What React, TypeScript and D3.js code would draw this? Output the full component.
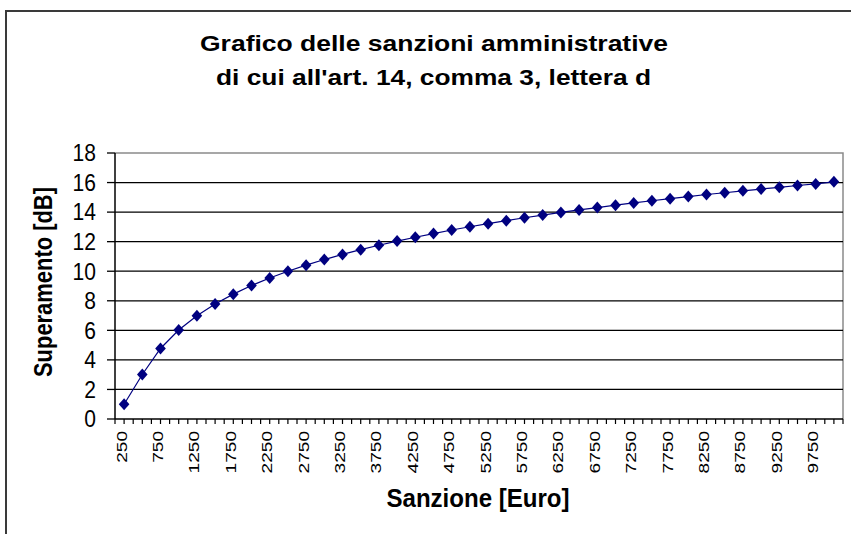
import React from "react";
import * as d3 from "d3";

const categories: number[] = [
  250, 500, 750, 1000, 1250, 1500, 1750, 2000, 2250, 2500,
  2750, 3000, 3250, 3500, 3750, 4000, 4250, 4500, 4750, 5000,
  5250, 5500, 5750, 6000, 6250, 6500, 6750, 7000, 7250, 7500,
  7750, 8000, 8250, 8500, 8750, 9000, 9250, 9500, 9750, 10000,
];

const superamento: number[] = [
  1.0, 3.01, 4.77, 6.02, 6.99, 7.78, 8.45, 9.03, 9.54, 10.0,
  10.41, 10.79, 11.14, 11.46, 11.76, 12.04, 12.3, 12.55, 12.79, 13.01,
  13.22, 13.42, 13.62, 13.8, 13.98, 14.15, 14.31, 14.47, 14.62, 14.77,
  14.91, 15.05, 15.19, 15.31, 15.44, 15.56, 15.68, 15.8, 15.91, 16.05,
];

const yTicks: number[] = [0, 2, 4, 6, 8, 10, 12, 14, 16, 18];

const titleLines: string[] = [
  "Grafico delle sanzioni amministrative",
  "di cui all'art. 14, comma 3, lettera d",
];
const xTitle = "Sanzione [Euro]";
const yTitle = "Superamento [dB]";

const FONT = "'Liberation Sans', Arial, Helvetica, sans-serif";

export default function App() {
  const left = 115;
  const right = 843;
  const top = 153;
  const bottom = 419;

  const x = d3
    .scaleBand<number>()
    .domain(categories)
    .range([left, right])
    .padding(0);
  const y = d3.scaleLinear().domain([0, 18]).range([bottom, top]);
  const bw = x.bandwidth();
  const cx = (c: number) => (x(c) as number) + bw / 2;

  const line = d3
    .line<number>()
    .x((_, i) => cx(categories[i]))
    .y((v) => y(v));

  const xTickPos: number[] = [];
  for (let i = 0; i <= categories.length * 2; i++) {
    xTickPos.push(left + (i * bw) / 2);
  }

  const diamond = (px: number, py: number) =>
    `M${px},${py - 6}L${px + 5.3},${py}L${px},${py + 6}L${px - 5.3},${py}Z`;

  return (
    <svg
      width={851}
      height={534}
      style={{ position: "absolute", left: 0, top: 0, background: "#fff" }}
      fontFamily={FONT}
    >
      <rect x={0} y={0} width={851} height={534} fill="#fff" />
      {/* outer chart border */}
      <rect
        x={6}
        y={11}
        width={900}
        height={600}
        fill="none"
        stroke="#3a3a3a"
        strokeWidth={2}
      />

      {/* title */}
      <text
        x={434}
        y={51}
        textAnchor="middle"
        fontWeight="bold"
        fontSize={22}
        textLength={468}
        lengthAdjust="spacingAndGlyphs"
        fill="#000"
      >
        {titleLines[0]}
      </text>
      <text
        x={433.5}
        y={85}
        textAnchor="middle"
        fontWeight="bold"
        fontSize={22}
        textLength={435}
        lengthAdjust="spacingAndGlyphs"
        fill="#000"
      >
        {titleLines[1]}
      </text>

      {/* plot border (top, right) */}
      <path
        d={`M${left},${top}H${right}V${bottom}`}
        fill="none"
        stroke="#8a8a8a"
        strokeWidth={1.5}
      />

      {/* gridlines */}
      {yTicks
        .filter((t) => t > 0 && t < 18)
        .map((t) => (
          <line
            key={"g" + t}
            x1={left}
            x2={right}
            y1={y(t)}
            y2={y(t)}
            stroke="#000"
            strokeWidth={1.3}
          />
        ))}

      {/* y axis */}
      <line x1={left} x2={left} y1={top} y2={bottom} stroke="#000" strokeWidth={1.5} />
      {yTicks.map((t) => (
        <g key={"yt" + t}>
          <line x1={left - 8} x2={left} y1={y(t)} y2={y(t)} stroke="#000" strokeWidth={1.3} />
          <text
            x={96}
            y={y(t)}
            dy="0.36em"
            textAnchor="end"
            fontSize={23}
            textLength={String(t).length * 11.7}
            lengthAdjust="spacingAndGlyphs"
            fill="#000"
          >
            {t}
          </text>
        </g>
      ))}

      {/* x axis */}
      <line x1={left} x2={right} y1={bottom} y2={bottom} stroke="#000" strokeWidth={1.5} />
      {xTickPos.map((p, i) => (
        <line
          key={"xt" + i}
          x1={p}
          x2={p}
          y1={bottom}
          y2={bottom + 5}
          stroke="#000"
          strokeWidth={1.2}
        />
      ))}
      {categories.map((c, i) =>
        i % 2 === 0 ? (
          <text
            key={"xl" + c}
            transform={`translate(${cx(c) + 2.5},431) rotate(-90)`}
            textAnchor="end"
            fontSize={14.5}
            textLength={String(c).length * 10.6}
            lengthAdjust="spacingAndGlyphs"
            fill="#000"
          >
            {c}
          </text>
        ) : null
      )}

      {/* axis titles */}
      <text
        x={478}
        y={507}
        textAnchor="middle"
        fontWeight="bold"
        fontSize={25}
        textLength={183}
        lengthAdjust="spacingAndGlyphs"
        fill="#000"
      >
        {xTitle}
      </text>
      <text
        transform={`translate(52,282) rotate(-90)`}
        textAnchor="middle"
        fontWeight="bold"
        fontSize={25}
        textLength={190}
        lengthAdjust="spacingAndGlyphs"
        fill="#000"
      >
        {yTitle}
      </text>

      {/* series */}
      <path d={line(superamento) || ""} fill="none" stroke="#000080" strokeWidth={1.2} />
      {superamento.map((v, i) => (
        <path key={"m" + i} d={diamond(cx(categories[i]), y(v))} fill="#000080" />
      ))}
    </svg>
  );
}
